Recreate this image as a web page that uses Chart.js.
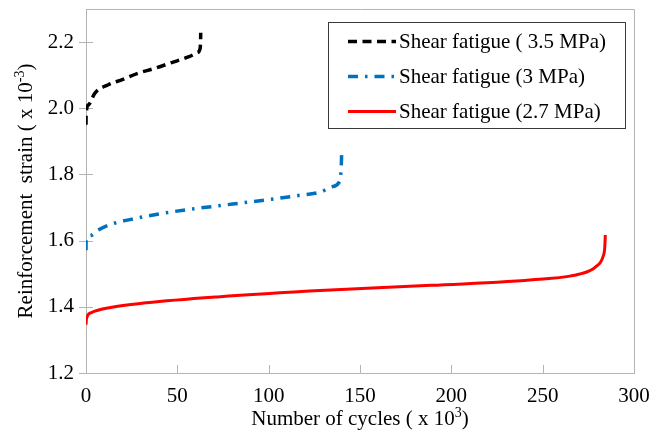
<!DOCTYPE html>
<html>
<head>
<meta charset="utf-8">
<script src="https://cdn.jsdelivr.net/npm/chart.js@4"></script>
<style>
  html, body { margin: 0; padding: 0; background: #fff; }
  #wrap { width: 665px; height: 434px; }
</style>
</head>
<body>
<div id="wrap"><canvas id="strainChart" width="665" height="434"></canvas></div>
<script>
// cycles in thousands, strain in 10^-3
const cycles35 = [0, 0.05, 1.3, 4.9, 12.2, 19.5, 28.6, 37.8, 46.9, 56, 60.6, 62.4, 62.7, 62.8];
const strain35 = [1.950, 1.980, 2.010, 2.046, 2.071, 2.086, 2.106, 2.121, 2.138, 2.155, 2.167, 2.179, 2.200, 2.228];

const cycles30 = [0, 0.05, 2.2, 6.7, 13, 27, 41.4, 56, 70.6, 85.2, 99.8, 114.4, 129, 134.5, 139, 139.8, 140];
const strain30 = [1.571, 1.600, 1.615, 1.632, 1.648, 1.667, 1.682, 1.694, 1.704, 1.714, 1.724, 1.735, 1.748, 1.763, 1.781, 1.834, 1.872];

const cycles27 = [0, 0.3, 2.7, 13.5, 33, 72, 131, 189, 248, 271.6, 279, 283, 284, 284.3];
const strain27 = [1.346, 1.365, 1.382, 1.398, 1.412, 1.430, 1.450, 1.465, 1.483, 1.501, 1.521, 1.551, 1.580, 1.617];

const seriesLabels = ['Shear fatigue ( 3.5 MPa)', 'Shear fatigue (3 MPa)', 'Shear fatigue (2.7 MPa)'];
const xTicks = [0, 50, 100, 150, 200, 250, 300];
const yTicks = [1.2, 1.4, 1.6, 1.8, 2.0, 2.2];

const FONT = 'Liberation Serif, Times New Roman, serif';
const AXIS_GREY = '#b4b4b4';

function toPoints(xs, ys) {
  return xs.map((x, i) => ({ x: x, y: ys[i] }));
}

// text with a raised part, e.g. 10^3
function drawRich(ctx, parts, x, y, size) {
  const supSize = Math.round(size * 0.68);
  let total = 0;
  parts.forEach(p => {
    ctx.font = (p.sup ? supSize : size) + 'px ' + FONT;
    p.w = ctx.measureText(p.text).width;
    total += p.w;
  });
  let cx = x - total / 2;
  ctx.textAlign = 'left';
  ctx.textBaseline = 'alphabetic';
  parts.forEach(p => {
    ctx.font = (p.sup ? supSize : size) + 'px ' + FONT;
    ctx.fillText(p.text, cx, p.sup ? y - size * 0.4 : y);
    cx += p.w;
  });
}

const framePlugin = {
  id: 'frame',
  beforeDatasetsDraw(chart) {
    const { ctx, chartArea: a, scales } = chart;
    ctx.save();
    ctx.strokeStyle = AXIS_GREY;
    ctx.lineWidth = 1;
    ctx.beginPath();
    // top and right edges of the plot box
    ctx.moveTo(a.left, a.top + 0.5);
    ctx.lineTo(a.right + 0.5, a.top + 0.5);
    ctx.lineTo(a.right + 0.5, a.bottom);
    // y ticks crossing the axis
    yTicks.forEach(v => {
      const py = Math.round(scales.y.getPixelForValue(v)) + 0.5;
      ctx.moveTo(a.left - 7, py);
      ctx.lineTo(a.left + 7, py);
    });
    // x ticks pointing inward
    xTicks.forEach(v => {
      const px = Math.round(scales.x.getPixelForValue(v)) + 0.5;
      ctx.moveTo(px, a.bottom);
      ctx.lineTo(px, a.bottom - 8);
    });
    ctx.stroke();
    ctx.restore();
  },
  afterDraw(chart) {
    const { ctx, chartArea: a } = chart;
    ctx.save();
    ctx.fillStyle = '#000';
    drawRich(ctx, [{ text: 'Number of cycles ( x 10' }, { text: '3', sup: true }, { text: ')' }],
      (a.left + a.right) / 2, 425, 21);
    ctx.translate(32, (a.top + a.bottom) / 2);
    ctx.rotate(-Math.PI / 2);
    drawRich(ctx, [{ text: 'Reinforcement  strain ( x 10' }, { text: '-3', sup: true }, { text: ')' }],
      0, 0, 21);
    ctx.restore();
  }
};

const legendBox = {
  id: 'legendBox',
  afterDatasetsDraw(chart) {
    const ctx = chart.ctx;
    const left = 328, top = 22, w = 297, h = 106, rowH = 35;
    ctx.save();
    ctx.fillStyle = '#fff';
    ctx.fillRect(left, top, w, h);
    ctx.strokeStyle = '#3a3a3a';
    ctx.lineWidth = 1;
    ctx.strokeRect(left + 0.5, top + 0.5, w, h);
    chart.data.datasets.forEach((ds, i) => {
      const y = top + 19.5 + i * rowH;
      ctx.strokeStyle = ds.borderColor;
      ctx.lineWidth = ds.borderWidth;
      ctx.setLineDash(ds.borderDash || []);
      ctx.beginPath();
      ctx.moveTo(348, y);
      ctx.lineTo(396, y);
      ctx.stroke();
      ctx.setLineDash([]);
      ctx.fillStyle = '#000';
      ctx.font = '21px ' + FONT;
      ctx.textAlign = 'left';
      ctx.textBaseline = 'middle';
      ctx.fillText(ds.label, 399, y + 1);
    });
    ctx.restore();
  }
};

new Chart(document.getElementById('strainChart'), {
  type: 'line',
  data: {
    datasets: [
      {
        label: seriesLabels[0],
        data: toPoints(cycles35, strain35),
        borderColor: '#000000',
        borderWidth: 3.5,
        borderDash: [9, 5.5]
      },
      {
        label: seriesLabels[1],
        data: toPoints(cycles30, strain30),
        borderColor: '#0070c0',
        borderWidth: 3.5,
        borderDash: [10, 7, 2.5, 7]
      },
      {
        label: seriesLabels[2],
        data: toPoints(cycles27, strain27),
        borderColor: '#ff0000',
        borderWidth: 3
      }
    ]
  },
  options: {
    responsive: false,
    animation: false,
    parsing: false,
    layout: { padding: { top: 9, right: 31, left: 0, bottom: 0 } },
    elements: {
      point: { radius: 0 },
      line: { cubicInterpolationMode: 'monotone', fill: false }
    },
    plugins: {
      legend: { display: false },
      tooltip: { enabled: false }
    },
    scales: {
      x: {
        type: 'linear',
        min: 0,
        max: 300,
        afterFit(s) {
          s.height = 61;
          s.paddingLeft = 0;
          s.paddingRight = 0;
        },
        afterBuildTicks(s) { s.ticks = xTicks.map(v => ({ value: v })); },
        grid: { display: true, drawOnChartArea: false, drawTicks: false },
        border: { display: true, color: AXIS_GREY, width: 1 },
        ticks: {
          padding: 11,
          color: '#000',
          maxRotation: 0,
          font: { family: FONT, size: 21 }
        }
      },
      y: {
        type: 'linear',
        min: 1.2,
        max: 2.3,
        afterFit(s) {
          s.width = 86;
          s.paddingTop = 0;
          s.paddingBottom = 0;
        },
        afterBuildTicks(s) { s.ticks = yTicks.map(v => ({ value: v })); },
        grid: { display: true, drawOnChartArea: false, drawTicks: false },
        border: { display: true, color: AXIS_GREY, width: 1 },
        ticks: {
          padding: 12,
          color: '#000',
          font: { family: FONT, size: 21 },
          callback: v => v.toFixed(1)
        }
      }
    }
  },
  plugins: [framePlugin, legendBox]
});
</script>
</body>
</html>
